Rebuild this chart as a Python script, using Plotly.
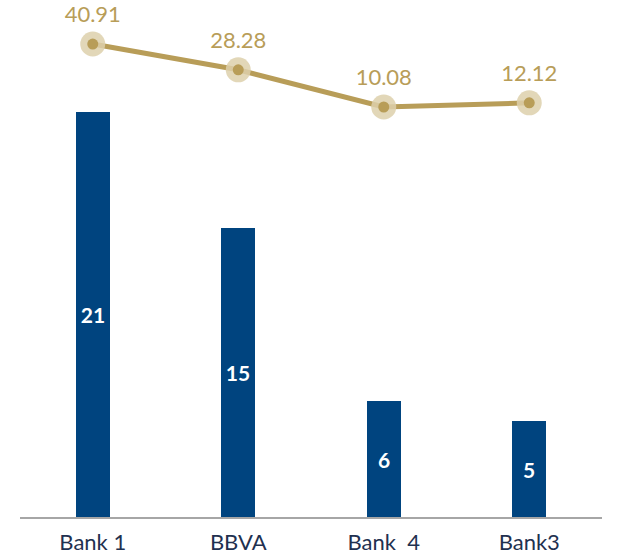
import plotly.graph_objects as go

# Data
banks = ["Bank 1", "BBVA", "Bank  4", "Bank3"]
bar_values = [21, 15, 6, 5]
line_values = [40.91, 28.28, 10.08, 12.12]

BAR_COLOR = "#00447f"
GOLD = "#b89d58"
GOLD_HALO = "#ddd0ab"
LABEL_COLOR = "#1f3150"
FONT = "Lato, 'Open Sans', sans-serif"

fig = go.Figure()

fig.add_trace(go.Bar(
    x=banks, y=bar_values,
    marker=dict(color=BAR_COLOR, line=dict(width=0)),
    width=0.235,
    text=[str(v) for v in bar_values],
    textposition="inside",
    insidetextanchor="middle",
    textangle=0,
    textfont=dict(family=FONT, size=21, color="white", weight="bold"),
    hoverinfo="skip",
    showlegend=False,
))

# Line joining the points
fig.add_trace(go.Scatter(
    x=banks, y=line_values, yaxis="y2",
    mode="lines",
    line=dict(color=GOLD, width=5),
    hoverinfo="skip",
    showlegend=False,
    cliponaxis=False,
))

# Soft halo around each point, carrying the value labels
fig.add_trace(go.Scatter(
    x=banks, y=line_values, yaxis="y2",
    mode="markers+text",
    marker=dict(size=25, color=GOLD_HALO, opacity=0.85),
    text=[f"{v:.2f}" for v in line_values],
    textposition="top center",
    textfont=dict(family=FONT, size=22, color=GOLD),
    hoverinfo="skip",
    showlegend=False,
    cliponaxis=False,
))

# Solid inner dot
fig.add_trace(go.Scatter(
    x=banks, y=line_values, yaxis="y2",
    mode="markers",
    marker=dict(size=11, color=GOLD),
    hoverinfo="skip",
    showlegend=False,
    cliponaxis=False,
))

plot_h = 557 - 20 - 40
bar_px_per_unit = 19.3
line_px_per_unit = 2.043
y2_min = -(517 - 127.6) / line_px_per_unit

fig.update_layout(
    width=618, height=557,
    margin=dict(l=20, r=16, t=20, b=40),
    paper_bgcolor="white",
    plot_bgcolor="white",
    bargap=0.0,
    xaxis=dict(
        type="category",
        range=[-0.5, 3.5],
        automargin=False,
        showgrid=False,
        zeroline=False,
        showline=True,
        linecolor="#a6a6a6",
        linewidth=2,
        ticks="outside",
        ticklen=5,
        tickcolor="rgba(0,0,0,0)",
        tickfont=dict(family=FONT, size=22, color=LABEL_COLOR),
    ),
    yaxis=dict(
        range=[0, plot_h / bar_px_per_unit],
        visible=False,
        automargin=False,
        showgrid=False,
        zeroline=False,
    ),
    yaxis2=dict(
        overlaying="y",
        range=[y2_min, y2_min + plot_h / line_px_per_unit],
        visible=False,
        automargin=False,
        showgrid=False,
        zeroline=False,
    ),
)

fig.write_html("out.html")
